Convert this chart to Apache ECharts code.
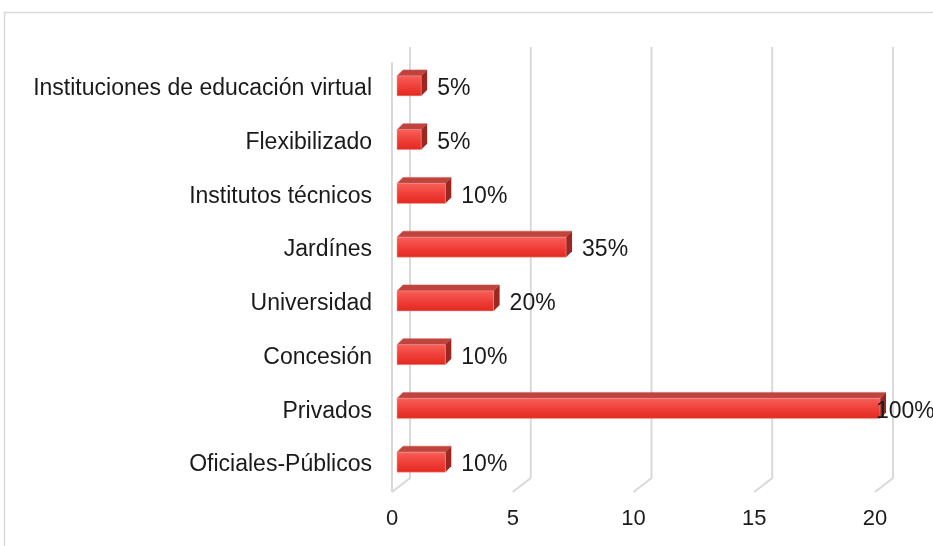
<!DOCTYPE html>
<html>
<head>
<meta charset="utf-8">
<script src="https://cdn.jsdelivr.net/npm/echarts@6/dist/echarts.min.js"></script>
<style>
  html, body { margin: 0; padding: 0; background: #fff; }
  #chart { width: 933px; height: 546px; }
</style>
</head>
<body>
<div id="chart"></div>
<script>
// categories top to bottom, as in the picture
const categories = [
  'Instituciones de educación virtual',
  'Flexibilizado',
  'Institutos técnicos',
  'Jardínes',
  'Universidad',
  'Concesión',
  'Privados',
  'Oficiales-Públicos',
];
const counts = [1, 1, 2, 7, 4, 2, 20, 2];
const percentLabels = ['5%', '5%', '10%', '35%', '20%', '10%', '100%', '10%'];
const xTicks = [0, 5, 10, 15, 20];

const FONT = "'Liberation Sans', Arial, sans-serif";
const wallDx = 18;
const wallDy = -15;

const chart = echarts.init(document.getElementById('chart'));

// back wall gridlines + floor diagonals, like the Excel 3D chart
const renderWall = (params, api) => {
  const cs = params.coordSys;
  const v = api.value(0);
  const fx = api.coord([v, 0])[0];
  const top = cs.y;
  const bottom = cs.y + cs.height;
  const style = { stroke: '#d9d9d9', lineWidth: 2, fill: null };
  const children = [
    {
      type: 'polyline',
      shape: {
        points: [
          [fx + wallDx, top + wallDy],
          [fx + wallDx, bottom + wallDy + 1],
          [fx, bottom],
        ],
      },
      style: style,
    },
  ];
  if (params.dataIndex === 0) {
    children.push({
      type: 'line',
      shape: { x1: fx, y1: top, x2: fx, y2: bottom },
      style: style,
    });
  }
  return { type: 'group', children: children };
};

const renderBar = (params, api) => {
  const idx = api.value(1);
  const start = api.coord([0, idx]);
  const end = api.coord([api.value(0), idx]);
  const h = 20;
  const dx = 6;
  const dy = -6;
  const x = start[0] + 5;
  const y = start[1] - 3 - h / 2;
  const w = end[0] - start[0];
  const labelX = Math.min(x + w + 16, api.getWidth() - 57);
  return {
    type: 'group',
    children: [
      {
        type: 'polygon',
        shape: { points: [[x, y], [x + dx, y + dy], [x + w + dx, y + dy], [x + w, y]] },
        style: { fill: '#bf443d', stroke: '#c9574f', lineWidth: 0.5 },
      },
      {
        type: 'polygon',
        shape: { points: [[x + w, y], [x + w + dx, y + dy], [x + w + dx, y + h + dy], [x + w, y + h]] },
        style: { fill: '#9c2720' },
      },
      {
        type: 'rect',
        shape: { x: x, y: y, width: w, height: h },
        style: {
          fill: new echarts.graphic.LinearGradient(0, 0, 0, 1, [
            { offset: 0, color: '#f8605a' },
            { offset: 0.5, color: '#f0403a' },
            { offset: 1, color: '#e2281f' },
          ]),
          stroke: '#f5a09a',
          lineWidth: 0.5,
        },
      },
      {
        type: 'text',
        style: {
          x: labelX,
          y: y + h / 2 + 3,
          text: percentLabels[params.dataIndex],
          fill: '#1a1a1a',
          font: '23px ' + FONT,
          textAlign: 'left',
          textVerticalAlign: 'middle',
        },
      },
    ],
  };
};

chart.setOption({
  animation: false,
  textStyle: { fontFamily: FONT },
  graphic: [
    {
      type: 'rect',
      shape: { x: 4.5, y: 12.5, width: 1000, height: 1000 },
      style: { fill: null, stroke: '#d9d9d9', lineWidth: 1.5 },
      silent: true,
    },
  ],
  grid: {
    left: 392,
    right: 58,
    top: 62,
    bottom: 54,
  },
  xAxis: {
    type: 'value',
    min: 0,
    max: 20,
    interval: 5,
    axisLine: { show: false },
    axisTick: { show: false },
    splitLine: { show: false },
    axisLabel: {
      margin: 16,
      fontSize: 22,
      color: '#1a1a1a',
      fontFamily: FONT,
    },
  },
  yAxis: {
    type: 'category',
    data: categories,
    inverse: true,
    axisLine: { show: false },
    axisTick: { show: false },
    splitLine: { show: false },
    axisLabel: {
      margin: 20,
      fontSize: 23,
      color: '#1a1a1a',
      fontFamily: FONT,
      padding: [10, 0, 0, 0],
    },
  },
  series: [
    {
      name: 'wall',
      type: 'custom',
      z: 1,
      silent: true,
      renderItem: renderWall,
      data: xTicks.map((v) => [v, 0]),
      encode: { x: 0, y: 1 },
    },
    {
      name: 'bars',
      type: 'custom',
      z: 2,
      renderItem: renderBar,
      data: counts.map((v, i) => [v, i]),
      encode: { x: 0, y: 1 },
    },
  ],
});
</script>
</body>
</html>
